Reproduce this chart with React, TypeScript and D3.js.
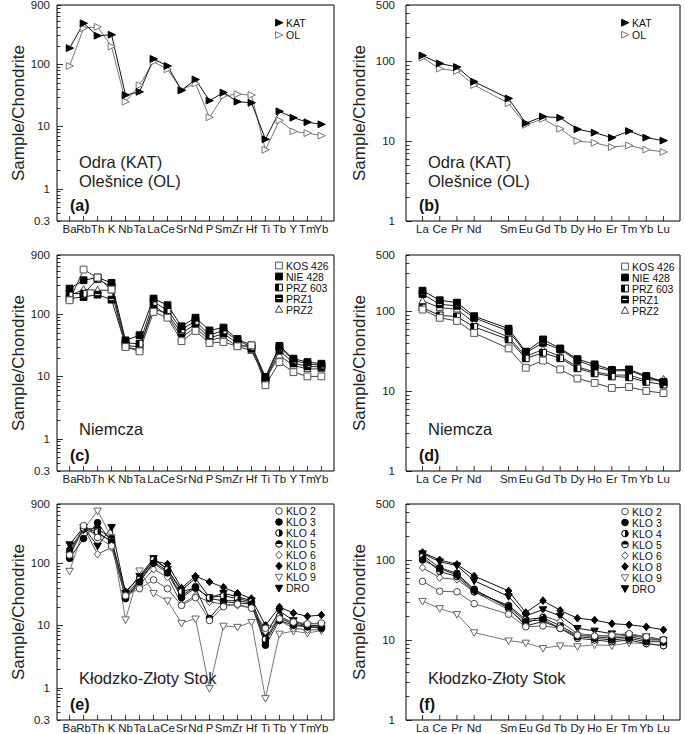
import { useEffect, useRef } from "react";
import * as d3 from "d3";

// element orders on the x axes
const spiderElements = ["Ba", "Rb", "Th", "K", "Nb", "Ta", "La", "Ce", "Sr", "Nd", "P", "Sm", "Zr", "Hf", "Ti", "Tb", "Y", "Tm", "Yb"];
const reeAxis = ["La", "Ce", "Pr", "Nd", "Pm", "Sm", "Eu", "Gd", "Tb", "Dy", "Ho", "Er", "Tm", "Yb", "Lu"];
const reeElements = reeAxis.filter((e) => e !== "Pm");

const spiderTickLabels = [900, 100, 10, 1, 0.3];
const reeTickLabels = [500, 100, 10, 1];

// (a) / (b) Odra, Olesnice
const katSpider = [182, 457, 288, 299, 32, 36, 122, 94, 38, 57, 26, 35, 25, 24, 6.2, 17.5, 13.8, 11.7, 10.8];
const olSpider = [94, 380, 400, 193, 25, 46, 110, 83, 39, 49, 14, 31, 33, 32, 4.2, 12.5, 8.3, 7.8, 7.1];
const katRee = [117, 93, 84, 55, 34, 16.7, 20.2, 19.5, 14, 12.7, 11, 13.3, 11, 10.1];
const olRee = [110, 80, 75, 50, 29.6, 15.9, 18.9, 14.2, 10, 9.5, 8.4, 8.8, 7.8, 7.3];

// (c) / (d) Niemcza
const kos426Spider = [168, 525, 390, 250, 29.7, 25.3, 109, 88, 37, 54, 34.5, 35.8, 30.5, 31.6, 7.2, 17, 11.7, 10, 10];
const nie428Spider = [259, 353, 390, 320, 38, 46, 179, 140, 64, 88, 55, 61, 40, 31.6, 9.8, 31, 19.3, 17, 16];
const prz603Spider = [216, 215, 370, 276, 34.5, 33.6, 158, 116, 57, 78, 46, 55, 38, 29.7, 9.2, 29.7, 18.1, 16, 15];
const prz1Spider = [179, 190, 207, 172, 31.6, 29.7, 123, 102, 50, 69, 41.5, 49, 34, 27.9, 8.6, 26, 16.4, 14.5, 14.2];
const prz2Spider = [200, 250, 244, 244, 29.7, 27, 140, 95, 43, 61, 38, 43, 30.5, 26, 9, 21.8, 15, 13.2, 13.2];
const kos426Ree = [104, 82, 75, 53, 34, 19.5, 24, 18.6, 14.3, 12.6, 10.9, 11.2, 10, 9.4];
const nie428Ree = [179, 136, 127, 86, 60, 31, 44, 34, 25, 21.5, 18.3, 18.6, 15.4, 13];
const prz603Ree = [110, 88, 85, 63, 44, 25.6, 30, 25.6, 19.2, 16.6, 15.2, 14.8, 13, 12];
const prz1Ree = [163, 121, 116, 82, 56, 30, 40, 33, 24, 20, 17.8, 18, 15, 12.6];
const prz2Ree = [134, 110, 105, 71, 47, 27, 33, 27, 20, 17.4, 15.8, 15.8, 13.6, 14];

// (e) / (f) Klodzko-Zloty Stok
const klo2Spider = [136, 403, 260, 190, 30, 39, 54, 39, 21, 28, 12, 20, 22, 19, 9, 12.8, 11.3, 10.6, 10.9];
const klo3Spider = [120, 250, 450, 220, 27, 50, 100, 70, 28, 40, 13, 24, 23, 22, 4.8, 12, 10, 9.5, 9];
const klo4Spider = [130, 370, 320, 220, 30, 55, 115, 80, 35, 40, 28, 30, 27, 24, 6, 14, 11, 10, 10];
const klo5Spider = [150, 360, 360, 250, 28, 52, 105, 75, 30, 42, 27, 25, 25, 23, 5.5, 13, 10.5, 9.5, 9.5];
const klo6Spider = [150, 380, 140, 180, 28, 45, 80, 60, 22, 30, 24, 22, 21, 19, 8, 12, 9, 8.5, 8.5];
const klo8Spider = [170, 350, 300, 230, 35, 60, 110, 97, 40, 62, 50, 41, 33, 27, 10, 19.8, 15.8, 14, 14.7];
const klo9Spider = [75, 350, 700, 260, 12.4, 76, 33, 25, 10.9, 12.8, 0.97, 9.8, 9.4, 11.3, 0.67, 7.3, 8.1, 7.5, 8.3];
const droSpider = [200, 380, 190, 380, 33, 62, 120, 80, 37, 57, 28, 33, 29, 25, 7, 17, 12, 10, 10];
const klo2Ree = [54, 40.6, 40, 28.4, 21, 14.6, 15, 14, 11.5, 11.2, 11.5, 12, 11, 10];
const klo3Ree = [100, 78, 65, 42, 26, 17, 18, 14, 11, 10.5, 10, 10.5, 9.5, 9.5];
const klo4Ree = [110, 72, 62, 40, 27, 18, 19, 15, 11.5, 11, 10.5, 11, 10, 10];
const klo5Ree = [115, 80, 68, 43, 25, 15, 17, 14, 10.5, 10, 9.5, 10, 9, 8.5];
const klo6Ree = [80, 60, 57, 40, 24, 16, 20, 17, 12, 11.5, 11, 11.5, 10.5, 10];
const klo8Ree = [124, 100, 88, 63, 41, 22, 31, 23.4, 18.7, 17.7, 16, 15.5, 14.6, 13.4];
const klo9Ree = [30.6, 24.8, 21, 12.4, 9.8, 9.2, 7.9, 8.5, 8.3, 8.7, 8.5, 9.2, 9, 8.5];
const droRee = [120, 95, 85, 55, 35, 20, 24, 20, 14, 13, 12, 11.5, 11, 10];

const FONT = "'Liberation Sans', Arial, Helvetica, sans-serif";

type Shape = "triRight" | "triUp" | "triDown" | "square" | "circle" | "diamond";
type Fill = "full" | "open" | "halfV" | "halfH" | "stripe";

interface Series {
  name: string;
  values: number[];
  shape: Shape;
  fill: Fill;
  color: string;
  line: string;
}

interface Panel {
  letter: string;
  title: string[];
  kind: "spider" | "ree";
  col: number;
  row: number;
  series: Series[]; // legend order
  legendStep: number;
  legendTop: number;
  legendFont: number;
}

const odra = (kat: number[], ol: number[]): Series[] => [
  { name: "KAT", values: kat, shape: "triRight", fill: "full", color: "#000", line: "#111" },
  { name: "OL", values: ol, shape: "triRight", fill: "open", color: "#777", line: "#777" },
];

const niemcza = (kos: number[], nie: number[], p603: number[], p1: number[], p2: number[]): Series[] => [
  { name: "KOS 426", values: kos, shape: "square", fill: "open", color: "#555", line: "#444" },
  { name: "NIE 428", values: nie, shape: "square", fill: "full", color: "#000", line: "#111" },
  { name: "PRZ 603", values: p603, shape: "square", fill: "halfV", color: "#000", line: "#222" },
  { name: "PRZ1", values: p1, shape: "square", fill: "stripe", color: "#000", line: "#222" },
  { name: "PRZ2", values: p2, shape: "triUp", fill: "open", color: "#444", line: "#333" },
];

const klodzko = (v: number[][]): Series[] => [
  { name: "KLO 2", values: v[0], shape: "circle", fill: "open", color: "#444", line: "#666" },
  { name: "KLO 3", values: v[1], shape: "circle", fill: "full", color: "#000", line: "#222" },
  { name: "KLO 4", values: v[2], shape: "circle", fill: "halfV", color: "#000", line: "#222" },
  { name: "KLO 5", values: v[3], shape: "circle", fill: "halfH", color: "#000", line: "#222" },
  { name: "KLO 6", values: v[4], shape: "diamond", fill: "open", color: "#555", line: "#555" },
  { name: "KLO 8", values: v[5], shape: "diamond", fill: "full", color: "#000", line: "#111" },
  { name: "KLO 9", values: v[6], shape: "triDown", fill: "open", color: "#666", line: "#777" },
  { name: "DRO", values: v[7], shape: "triDown", fill: "full", color: "#000", line: "#111" },
];

const panels: Panel[] = [
  { letter: "(a)", title: ["Odra (KAT)", "Olešnice (OL)"], kind: "spider", col: 0, row: 0, series: odra(katSpider, olSpider), legendStep: 12.3, legendTop: 17.7, legendFont: 10.5 },
  { letter: "(b)", title: ["Odra (KAT)", "Olešnice (OL)"], kind: "ree", col: 1, row: 0, series: odra(katRee, olRee), legendStep: 12, legendTop: 17.7, legendFont: 10.5 },
  { letter: "(c)", title: ["Niemcza"], kind: "spider", col: 0, row: 1, series: niemcza(kos426Spider, nie428Spider, prz603Spider, prz1Spider, prz2Spider), legendStep: 11, legendTop: 10.5, legendFont: 10.5 },
  { letter: "(d)", title: ["Niemcza"], kind: "ree", col: 1, row: 1, series: niemcza(kos426Ree, nie428Ree, prz603Ree, prz1Ree, prz2Ree), legendStep: 11, legendTop: 11.5, legendFont: 10.5 },
  {
    letter: "(e)", title: ["Kłodzko-Złoty Stok"], kind: "spider", col: 0, row: 2,
    series: klodzko([klo2Spider, klo3Spider, klo4Spider, klo5Spider, klo6Spider, klo8Spider, klo9Spider, droSpider]),
    legendStep: 11, legendTop: 7, legendFont: 10.5,
  },
  {
    letter: "(f)", title: ["Kłodzko-Złoty Stok"], kind: "ree", col: 1, row: 2,
    series: klodzko([klo2Ree, klo3Ree, klo4Ree, klo5Ree, klo6Ree, klo8Ree, klo9Ree, droRee]),
    legendStep: 11, legendTop: 7.5, legendFont: 10.5,
  },
];

const colX = [
  { x0: 57, x1: 334, yLabelX: 24, tickLabelX: 50 },
  { x0: 406, x1: 680, yLabelX: 365, tickLabelX: 395 },
];
const rowTop = [5, 255, 504];
const plotH = 216;

type G = d3.Selection<SVGGElement, unknown, null, undefined>;

function drawMarker(g: G, s: Series, x: number, y: number) {
  const r = s.shape === "circle" ? 3.3 : s.shape === "diamond" ? 3.8 : 3.4;
  const black = s.fill === "full" || s.fill === "stripe" ? s.color : "#fff";
  let d = "";
  if (s.shape === "square") d = `M${x - r},${y - r}h${2 * r}v${2 * r}h${-2 * r}Z`;
  if (s.shape === "triRight") d = `M${x - r},${y - r}L${x + r + 0.5},${y}L${x - r},${y + r}Z`;
  if (s.shape === "triUp") d = `M${x},${y - r - 0.5}L${x + r + 0.3},${y + r * 0.8}L${x - r - 0.3},${y + r * 0.8}Z`;
  if (s.shape === "triDown") d = `M${x},${y + r + 0.5}L${x + r + 0.3},${y - r * 0.8}L${x - r - 0.3},${y - r * 0.8}Z`;
  if (s.shape === "diamond") d = `M${x},${y - r}L${x + r * 0.85},${y}L${x},${y + r}L${x - r * 0.85},${y}Z`;

  if (s.shape === "circle") {
    g.append("circle").attr("cx", x).attr("cy", y).attr("r", r).attr("fill", black).attr("stroke", s.color).attr("stroke-width", 1);
  } else {
    g.append("path").attr("d", d).attr("fill", black).attr("stroke", s.color).attr("stroke-width", 1);
  }
  if (s.fill === "halfV") {
    if (s.shape === "circle") g.append("path").attr("d", `M${x},${y - r}A${r},${r} 0 0 1 ${x},${y + r}Z`).attr("fill", s.color);
    else g.append("rect").attr("x", x - r).attr("y", y - r).attr("width", r).attr("height", 2 * r).attr("fill", s.color);
  }
  if (s.fill === "halfH") {
    g.append("path").attr("d", `M${x - r},${y}A${r},${r} 0 0 1 ${x + r},${y}Z`).attr("fill", s.color);
  }
  if (s.fill === "stripe") {
    g.append("line").attr("x1", x - r + 1).attr("x2", x + r - 1).attr("y1", y).attr("y2", y).attr("stroke", "#fff").attr("stroke-width", 1);
  }
}

function logTicks(lo: number, hi: number) {
  const out: number[] = [];
  for (let e = Math.floor(Math.log10(lo)); e <= Math.ceil(Math.log10(hi)); e++) {
    for (let k = 1; k <= 9; k++) {
      const v = +(k * Math.pow(10, e)).toPrecision(3);
      if (v >= lo * 0.999 && v <= hi * 1.001) out.push(v);
    }
  }
  return out;
}

function drawPanel(svg: d3.Selection<SVGSVGElement, unknown, null, undefined>, p: Panel) {
  const c = colX[p.col];
  const top = rowTop[p.row];
  const bottom = top + plotH;
  const g = svg.append("g");

  const cats = p.kind === "spider" ? spiderElements : reeAxis;
  const x = d3.scalePoint<string>().domain(cats).range([c.x0, c.x1]).padding(p.kind === "spider" ? 0.9 : 0.96);
  const domain: [number, number] = p.kind === "spider" ? [0.3, 900] : [1, 500];
  const y = d3.scaleLog().domain(domain).range([bottom, top]);
  const elems = p.kind === "spider" ? spiderElements : reeElements;

  // frame
  g.append("line").attr("x1", c.x0).attr("x2", c.x1).attr("y1", top).attr("y2", top).attr("stroke", "#555").attr("stroke-width", 1.5);
  g.append("line").attr("x1", c.x1).attr("x2", c.x1).attr("y1", top).attr("y2", bottom).attr("stroke", "#555").attr("stroke-width", 1.5);
  g.append("line").attr("x1", c.x0).attr("x2", c.x0).attr("y1", top).attr("y2", bottom).attr("stroke", "#000");
  g.append("line").attr("x1", c.x0).attr("x2", c.x1).attr("y1", bottom).attr("y2", bottom).attr("stroke", "#000");

  // y ticks
  logTicks(domain[0], domain[1]).forEach((v) => {
    const major = Math.abs(Math.log10(v) - Math.round(Math.log10(v))) < 1e-6;
    const yy = Math.round(y(v)) + 0.5;
    g.append("line").attr("x1", c.x0).attr("x2", c.x0 + (major ? 6 : 3.5)).attr("y1", yy).attr("y2", yy).attr("stroke", "#000").attr("stroke-width", 0.8);
  });
  const labels = p.kind === "spider" ? spiderTickLabels : reeTickLabels;
  labels.forEach((v) => {
    g.append("text").attr("x", c.tickLabelX).attr("y", y(v) + 4).attr("text-anchor", "end")
      .attr("font-family", FONT).attr("font-size", 11.5).attr("fill", "#222").text(String(v));
  });

  // x ticks and labels
  cats.forEach((e) => {
    const xx = x(e) as number;
    g.append("line").attr("x1", xx).attr("x2", xx).attr("y1", bottom).attr("y2", bottom - 5).attr("stroke", "#000").attr("stroke-width", 0.8);
    if (e !== "Pm") {
      g.append("text").attr("x", xx).attr("y", bottom + 12).attr("text-anchor", "middle")
        .attr("font-family", FONT).attr("font-size", 11.5).attr("fill", "#222").text(e);
    }
  });

  // y title
  const cy = top + plotH / 2;
  g.append("text").attr("transform", `translate(${c.yLabelX},${cy}) rotate(-90)`).attr("text-anchor", "middle")
    .attr("font-family", FONT).attr("font-size", 17).attr("fill", "#222").text("Sample/Chondrite");

  // series, last legend entry drawn first
  const drawOrder = p.series.slice().reverse();
  const line = d3.line<number>().x((_, i) => x(elems[i]) as number).y((v) => y(v));
  drawOrder.forEach((s) => {
    g.append("path").attr("d", line(s.values)).attr("fill", "none").attr("stroke", s.line).attr("stroke-width", 1);
  });
  drawOrder.forEach((s) => {
    s.values.forEach((v, i) => drawMarker(g, s, x(elems[i]) as number, y(v)));
  });

  // legend
  p.series.forEach((s, i) => {
    const ly = top + p.legendTop + i * p.legendStep;
    drawMarker(g, s, c.x1 - 55, ly);
    g.append("text").attr("x", c.x1 - 48).attr("y", ly + 4).attr("font-family", FONT).attr("font-size", p.legendFont)
      .attr("fill", "#111").text(s.name);
  });

  // annotations
  p.title.forEach((t, i) => {
    g.append("text").attr("x", c.x0 + 22).attr("y", top + (p.title.length > 1 ? 163 + i * 18.5 : 180))
      .attr("font-family", FONT).attr("font-size", 16.5).attr("fill", "#222").text(t);
  });
  g.append("text").attr("x", c.x0 + 13).attr("y", top + 206).attr("font-family", FONT).attr("font-size", 16)
    .attr("font-weight", "bold").attr("fill", "#111").text(p.letter);
}

export default function App() {
  const ref = useRef<SVGSVGElement | null>(null);

  useEffect(() => {
    const svg = d3.select(ref.current as SVGSVGElement);
    svg.selectAll("*").remove();
    svg.append("rect").attr("width", 685).attr("height", 734).attr("fill", "#fff");
    panels.forEach((p) => drawPanel(svg, p));
  }, []);

  return <svg ref={ref} width={685} height={734} style={{ position: "absolute", left: 0, top: 0 }} />;
}
